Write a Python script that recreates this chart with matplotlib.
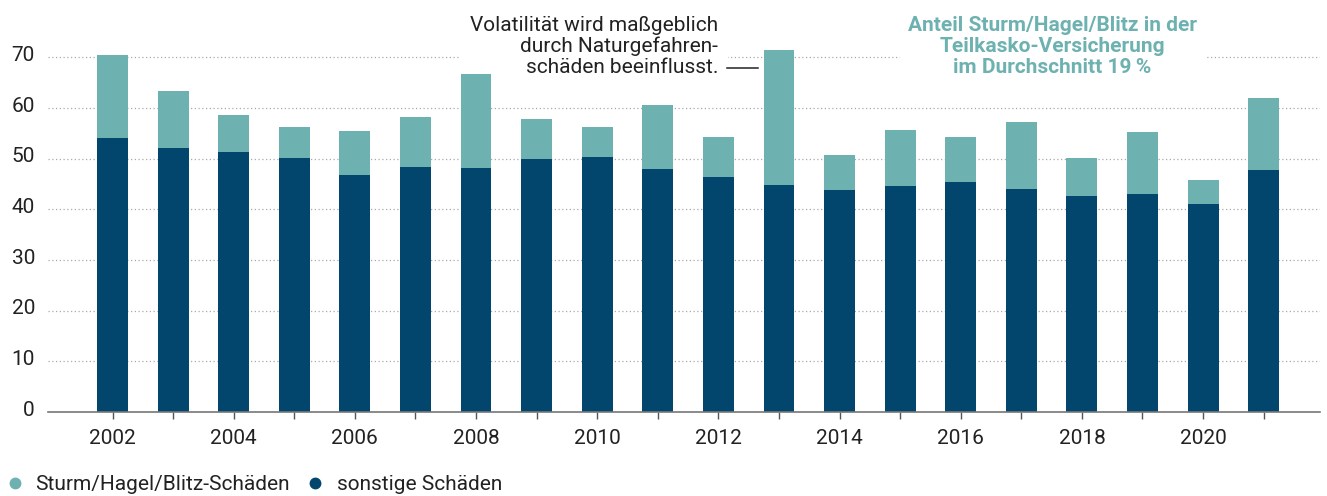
import matplotlib
matplotlib.use("Agg")
import matplotlib.pyplot as plt
from matplotlib.lines import Line2D
from matplotlib.transforms import ScaledTranslation

years = list(range(2002, 2022))
sonstige = [54.0, 52.2, 51.4, 50.1, 46.7, 48.3, 48.1, 49.9, 50.3, 47.9,
            46.3, 44.9, 43.9, 44.7, 45.3, 44.1, 42.7, 43.1, 41.1, 47.7]
total = [70.5, 63.3, 58.6, 56.2, 55.4, 58.2, 66.7, 57.8, 56.2, 60.5,
         54.2, 71.4, 50.7, 55.6, 54.2, 57.2, 50.1, 55.2, 45.7, 61.9]
sturm = [round(t - s, 1) for t, s in zip(total, sonstige)]
yticks = [0, 10, 20, 30, 40, 50, 60, 70]
xlabels = [2002, 2004, 2006, 2008, 2010, 2012, 2014, 2016, 2018, 2020]
series_names = ["Sturm/Hagel/Blitz-Schäden", "sonstige Schäden"]
note_text = "Volatilität wird maßgeblich\ndurch Naturgefahren-\nschäden beeinflusst."
title_text = "Anteil Sturm/Hagel/Blitz in der\nTeilkasko-Versicherung\nim Durchschnitt 19\u2009%"

LIGHT = "#6db1b0"
DARK = "#03466d"
TXT = "#222222"
FS = 15

plt.rcParams['font.family'] = ['Roboto', 'DejaVu Sans']

W, H = 1327, 496
fig = plt.figure(figsize=(W / 100, H / 100), dpi=100)
ax = fig.add_axes([48 / W, (H - 412) / H, (1320 - 48) / W, (412 - 47.2) / H])

ax.bar(years, sonstige, width=0.51, color=DARK, zorder=3)
ax.bar(years, sturm, width=0.51, bottom=sonstige, color=LIGHT, zorder=3)

ax.set_xlim(2000.935, 2021.93)
ax.set_ylim(0, 72)

ax.set_yticks(yticks)
ax.set_yticklabels([str(v) for v in yticks])
ax.tick_params(axis='y', length=0, pad=9.4, labelsize=FS, labelcolor=TXT)
for lab in ax.get_yticklabels():
    lab.set_transform(lab.get_transform() + ScaledTranslation(0, 4 / 100, fig.dpi_scale_trans))

ax.set_xticks(years)
ax.set_xticklabels([str(y) if y in xlabels else "" for y in years])
ax.tick_params(axis='x', length=5, width=1, color='#555555', pad=7,
               labelsize=FS, labelcolor=TXT)

ax.yaxis.grid(True, linestyle=(0, (1, 2)), color='#aaaaaa', linewidth=0.9, zorder=0)
ax.set_axisbelow(True)
for s in ['top', 'right', 'left']:
    ax.spines[s].set_visible(False)
ax.spines['bottom'].set_color('#777777')
ax.spines['bottom'].set_linewidth(1.2)
ax.spines['bottom'].set_zorder(4)

# annotation text (left) - white box hides gridline, bars drawn above it
ax.text(718 / W, 1 - 73 / H, note_text, transform=fig.transFigure, ha='right',
        va='baseline', fontsize=FS, color=TXT, linespacing=1.13,
        multialignment='right', clip_on=False, zorder=2,
        bbox=dict(facecolor='white', edgecolor='none', pad=7))
ax.add_artist(Line2D([727 / W, 758 / W], [1 - 68 / H, 1 - 68 / H],
                     transform=fig.transFigure, color=TXT, linewidth=1.1,
                     clip_on=False, zorder=2))

# right title
ax.text(1052.5 / W, 1 - 73 / H, title_text, transform=fig.transFigure, ha='center',
        va='baseline', fontsize=FS, color=LIGHT, fontweight='bold', linespacing=1.13,
        multialignment='center', clip_on=False, zorder=2,
        bbox=dict(facecolor='white', edgecolor='none', pad=6))

# legend
leg_y = 1 - 483 / H
for cx, tx, c, name in [(15, 35, LIGHT, series_names[0]), (315, 337, DARK, series_names[1])]:
    fig.add_artist(Line2D([cx / W], [leg_y], marker='o', linestyle='none', markersize=7.5,
                          markerfacecolor=c, markeredgecolor=c))
    fig.text(tx / W, leg_y, name, ha='left', va='center_baseline', fontsize=FS, color=TXT)

fig.savefig("out.png", dpi=100)
